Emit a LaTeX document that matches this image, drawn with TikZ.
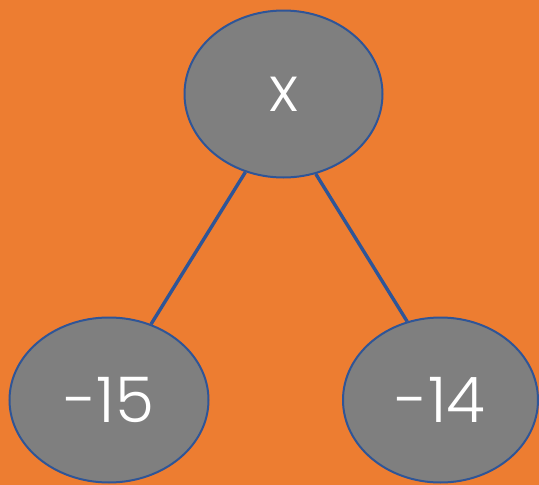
\documentclass[tikz,border=0pt]{standalone}
\usepackage{fontspec}
\setmainfont{Poppins}[UprightFont={* Light}]
\definecolor{bgorange}{HTML}{ED7D31}
\definecolor{nodegray}{HTML}{7F7F7F}
\definecolor{edgeblue}{HTML}{2F5597}
\tikzset{
  treenode/.style={ellipse, draw=edgeblue, line width=2pt, fill=nodegray, inner sep=0pt, text=white, font=\fontsize{63}{70}\selectfont},
  treeedge/.style={draw=edgeblue, line width=3.4pt}
}
\usetikzlibrary{shapes.geometric}
\begin{document}
\begin{tikzpicture}[x=1pt,y=-1pt]
\fill[bgorange] (0,0) rectangle (539,485);
\useasboundingbox (0,0) rectangle (539,485);
\node[treenode, minimum width=198pt, minimum height=167pt] (top) at (283.5,94) {x};
\node[treenode, minimum width=199pt, minimum height=165pt] (left) at (109,400) {-15};
\node[treenode, minimum width=195pt, minimum height=165pt] (right) at (440.5,400) {-14};
\draw[treeedge] (top.-116) -- (left.61);
\draw[treeedge] (top.-68) -- (right.113);
\end{tikzpicture}
\end{document}
